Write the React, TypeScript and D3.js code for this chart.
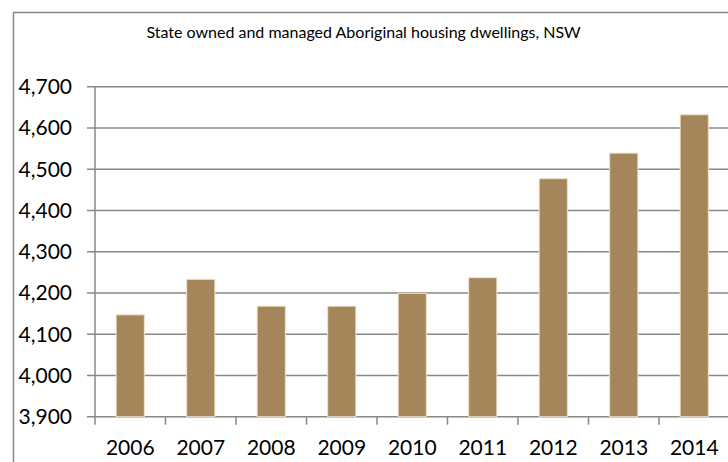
import React from "react";
import * as d3 from "d3";

const years = ["2006", "2007", "2008", "2009", "2010", "2011", "2012", "2013", "2014"];
const dwellings = [4147, 4233, 4168, 4168, 4199, 4237, 4477, 4539, 4632];
const yTicks = [3900, 4000, 4100, 4200, 4300, 4400, 4500, 4600, 4700];
const title = "State owned and managed Aboriginal housing dwellings, NSW";

const W = 728;
const H = 462;
const plotLeft = 95;
const plotRight = 729.5;
const plotTop = 86.7;
const plotBottom = 416.7;
const gridColor = "#888888";
const font = "Lato, 'Liberation Sans', sans-serif";

export default function App() {
  const x = d3.scaleBand<string>().domain(years).range([plotLeft, plotRight]).paddingInner(0).paddingOuter(0);
  const y = d3.scaleLinear().domain([3900, 4700]).range([plotBottom, plotTop]);
  const bw = x.bandwidth() * 0.4;
  const fmt = d3.format(",");

  return (
    <div style={{ position: "absolute", left: 0, top: 0 }}>
      <svg width={W} height={H} style={{ display: "block", background: "#fff" }}>
        <rect x={13.5} y={12.5} width={W + 20} height={H + 20} fill="#fff" stroke="#888" strokeWidth={1.5} />
        <text x={363.5} y={38} textAnchor="middle" fontFamily={font} fontSize={16} fill="#000">
          {title}
        </text>
        {yTicks.map((t) => (
          <g key={t}>
            <line x1={87} x2={plotRight} y1={y(t)} y2={y(t)} stroke={gridColor} strokeWidth={1.5} />
            <text x={72} y={y(t) + 7.5} textAnchor="end" fontFamily={font} fontSize={21} fill="#000">
              {fmt(t)}
            </text>
          </g>
        ))}
        <line x1={plotLeft} x2={plotLeft} y1={plotTop} y2={plotBottom + 8} stroke={gridColor} strokeWidth={1.5} />
        {years.map((yr) => (
          <line key={"t" + yr} x1={(x(yr) as number) + x.bandwidth()} x2={(x(yr) as number) + x.bandwidth()} y1={plotBottom} y2={plotBottom + 8} stroke={gridColor} strokeWidth={1.5} />
        ))}
        {years.map((yr, i) => {
          const cx = (x(yr) as number) + x.bandwidth() / 2;
          return (
            <rect
              key={"b" + yr}
              x={cx - bw / 2}
              y={y(dwellings[i])}
              width={bw}
              height={plotBottom - y(dwellings[i])}
              fill="#A5865A"
              stroke="#F0E2C8"
              strokeWidth={1}
            />
          );
        })}
        {years.map((yr) => (
          <text
            key={"l" + yr}
            x={(x(yr) as number) + x.bandwidth() / 2}
            y={455}
            textAnchor="middle"
            fontFamily={font}
            fontSize={21}
            fill="#000"
          >
            {yr}
          </text>
        ))}
      </svg>
    </div>
  );
}
